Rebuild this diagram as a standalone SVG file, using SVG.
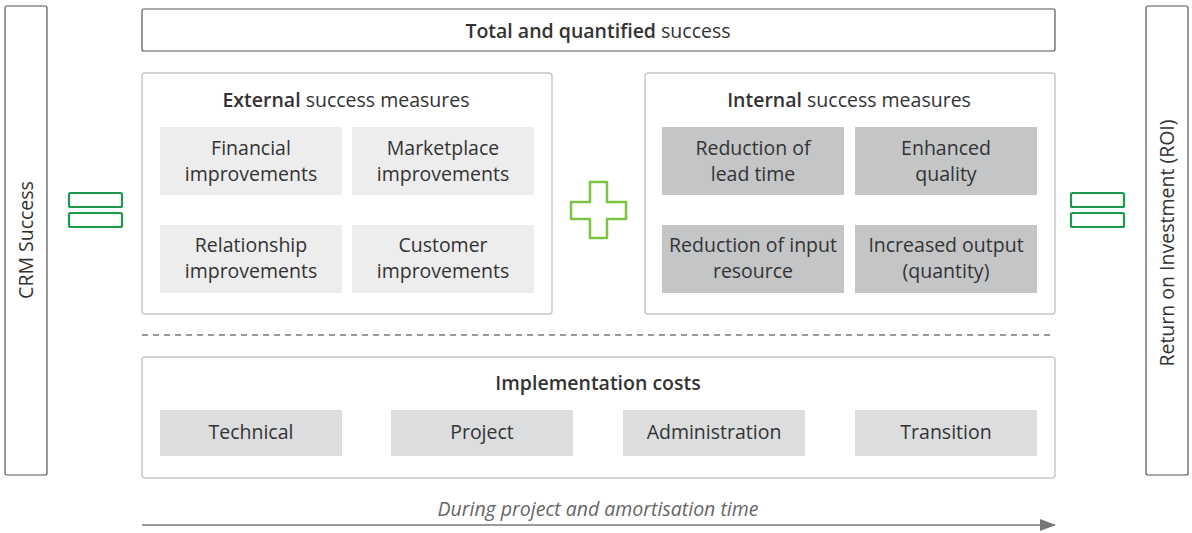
<svg xmlns="http://www.w3.org/2000/svg" width="1192" height="533" viewBox="0 0 1192 533">
<style>
text{font-family:"Open Sans","Noto Sans","Liberation Sans",sans-serif;fill:#333;font-size:19.5px;text-anchor:middle}
.b{font-weight:600}
.side{fill:#fff;stroke:#555;stroke-width:1.2}
.panel{fill:#fff;stroke:#c8c8c8;stroke-width:1.5}
.lt{fill:#ededed}
.dk{fill:#c4c5c7}
.ic{fill:#dcdddf}
.eq{fill:none;stroke:#1a9a4a;stroke-width:2.2}
</style>
<defs>
<marker id="ah" markerWidth="16" markerHeight="12" refX="15" refY="6" orient="auto" markerUnits="userSpaceOnUse">
<path d="M0,0 L16,6 L0,12 Z" fill="#777"/>
</marker>
</defs>
<g id="crm-success">
<rect class="side" x="5" y="6" width="42" height="469" rx="2"/>
<text transform="translate(33,240) rotate(-90)">CRM Success</text>
</g>
<g id="roi">
<rect class="side" x="1146" y="6" width="42" height="469" rx="2"/>
<text transform="translate(1174,243) rotate(-90)">Return on Investment (ROI)</text>
</g>
<g id="eq-left">
<rect class="eq" x="69" y="193" width="53" height="14" rx="1.5"/>
<rect class="eq" x="69" y="213" width="53" height="14" rx="1.5"/>
</g>
<g id="eq-right">
<rect class="eq" x="1071" y="193" width="53" height="14" rx="1.5"/>
<rect class="eq" x="1071" y="213" width="53" height="14" rx="1.5"/>
</g>
<g id="total">
<rect class="side" x="142" y="9" width="913" height="42" rx="2"/>
<text x="598" y="38"><tspan class="b">Total and quantified</tspan> success</text>
</g>
<g id="external">
<rect class="panel" x="142" y="73" width="410" height="241" rx="3"/>
<text x="346" y="107"><tspan class="b">External</tspan> success measures</text>
<g id="financial"><rect class="lt" x="160" y="127" width="182" height="68"/><text x="251" y="155">Financial</text><text x="251" y="181">improvements</text></g>
<g id="marketplace"><rect class="lt" x="352" y="127" width="182" height="68"/><text x="443" y="155">Marketplace</text><text x="443" y="181">improvements</text></g>
<g id="relationship"><rect class="lt" x="160" y="225" width="182" height="68"/><text x="251" y="252">Relationship</text><text x="251" y="278">improvements</text></g>
<g id="customer"><rect class="lt" x="352" y="225" width="182" height="68"/><text x="443" y="252">Customer</text><text x="443" y="278">improvements</text></g>
</g>
<g id="plus">
<path d="M590,182 H607 V202 H626 V219 H607 V238 H590 V219 H571 V202 H590 Z" fill="none" stroke="#7dc242" stroke-width="2.5" stroke-linejoin="round"/>
</g>
<g id="internal">
<rect class="panel" x="645" y="73" width="410" height="241" rx="3"/>
<text x="849" y="107"><tspan class="b">Internal</tspan> success measures</text>
<g id="lead-time"><rect class="dk" x="662" y="127" width="182" height="68"/><text x="753" y="155">Reduction of</text><text x="753" y="181">lead time</text></g>
<g id="quality"><rect class="dk" x="855" y="127" width="182" height="68"/><text x="946" y="155">Enhanced</text><text x="946" y="181">quality</text></g>
<g id="input"><rect class="dk" x="662" y="225" width="182" height="68"/><text x="753" y="252">Reduction of input</text><text x="753" y="278">resource</text></g>
<g id="output"><rect class="dk" x="855" y="225" width="182" height="68"/><text x="946" y="252">Increased output</text><text x="946" y="278">(quantity)</text></g>
</g>
<g id="implementation">
<rect class="panel" x="142" y="357" width="913" height="121" rx="3"/>
<text class="b" x="598" y="390">Implementation costs</text>
<g id="technical"><rect class="ic" x="160" y="410" width="182" height="46"/><text x="251" y="439">Technical</text></g>
<g id="project"><rect class="ic" x="391" y="410" width="182" height="46"/><text x="482" y="439">Project</text></g>
<g id="administration"><rect class="ic" x="623" y="410" width="182" height="46"/><text x="714" y="439">Administration</text></g>
<g id="transition"><rect class="ic" x="855" y="410" width="182" height="46"/><text x="946" y="439">Transition</text></g>
</g>
<g id="connectors">
<line x1="142" y1="335" x2="1055" y2="335" stroke="#333" stroke-width="1.2" stroke-dasharray="6,5"/>
<line x1="142" y1="525" x2="1055" y2="525" stroke="#777" stroke-width="1.5" marker-end="url(#ah)"/>
<text x="598" y="516" font-style="italic" style="fill:#666">During project and amortisation time</text>
</g>
</svg>
